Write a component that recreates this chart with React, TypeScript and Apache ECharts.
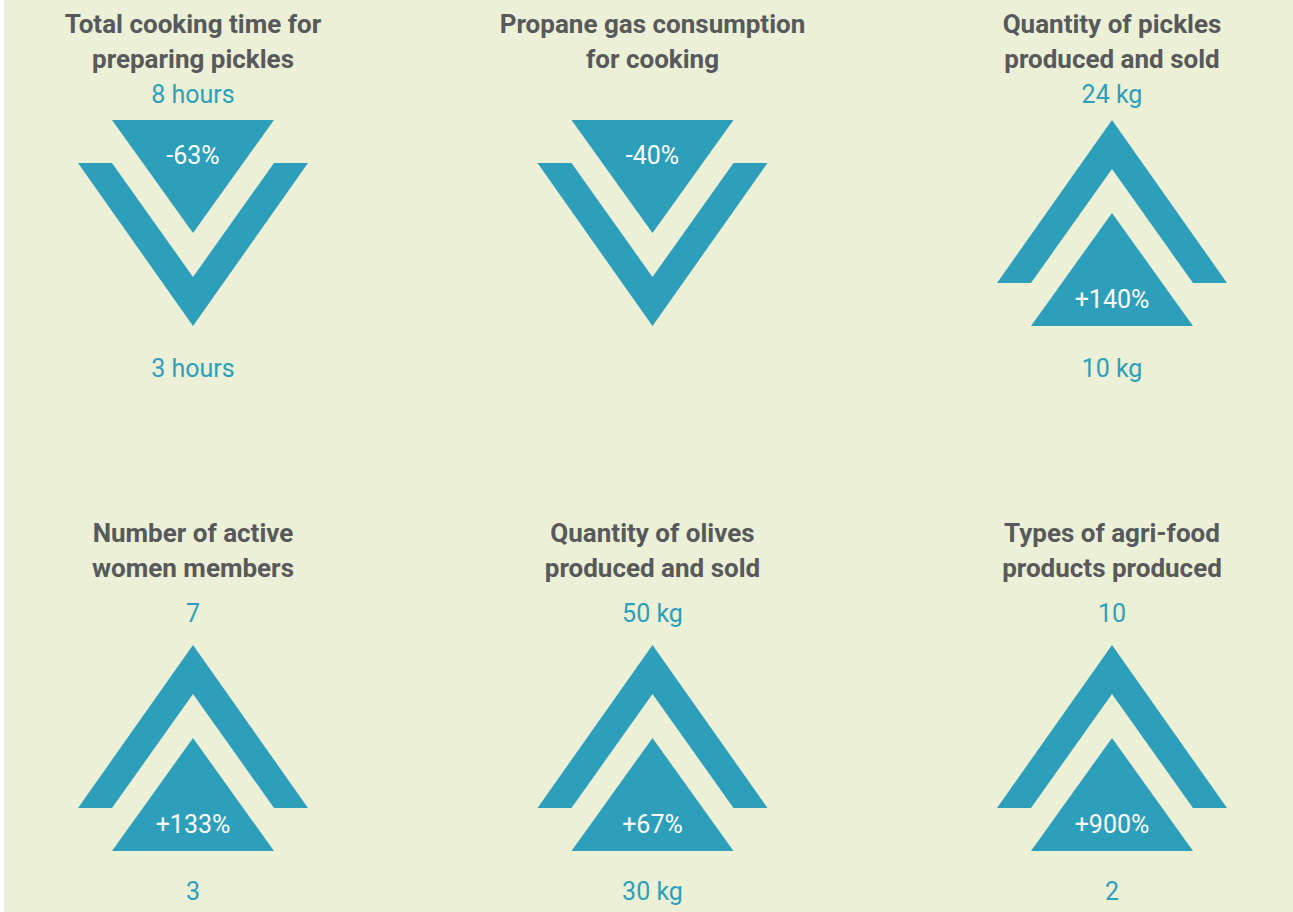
import React, { useEffect, useRef } from "react";
import * as echarts from "echarts";

// ---- data ----
const panelTitles: string[][] = [
  ["Total cooking time for", "preparing pickles"],
  ["Propane gas consumption", "for cooking"],
  ["Quantity of pickles", "produced and sold"],
  ["Number of active", "women members"],
  ["Quantity of olives", "produced and sold"],
  ["Types of agri-food", "products produced"],
];
const beforeValues: string[] = ["8 hours", "", "10 kg", "3", "30 kg", "2"];
const afterValues: string[] = ["3 hours", "", "24 kg", "7", "50 kg", "10"];
const changeLabels: string[] = ["-63%", "-40%", "+140%", "+133%", "+67%", "+900%"];
const panelColumns: number[] = [0, 1, 2, 0, 1, 2];
const panelRows: number[] = [0, 0, 0, 1, 1, 1];

// ---- layout / styles ----
const TEAL = "#2E9FBA";
const GREY = "#58595B";
const BG = "#EBF0D7";
const FONT = "Roboto, 'Noto Sans', sans-serif";
// per row offsets relative to the icon centre
const rowLayout = [
  { title1: -199, title2: -164, top: -129, bottom: 145 },
  { title1: -215.5, title2: -180.5, top: -134.5, bottom: 143.5 },
];

function renderPanel(params: any, api: any) {
  const i = params.dataIndex;
  const c = api.coord([api.value(0), api.value(1)]);
  const cx = c[0];
  const cy = c[1];
  const row = panelRows[i];
  const L = rowLayout[row];
  const down = changeLabels[i].startsWith("-");
  const s = down ? 1 : -1;
  const pt = (dx: number, dy: number) => [cx + dx, cy + dy * s];

  const tri = [pt(-81, -103), pt(81, -103), pt(0, 10)];
  const chev = [pt(-115, -60), pt(-81, -60), pt(0, 54), pt(81, -60), pt(115, -60), pt(0, 103)];

  const topLabel = down ? beforeValues[i] : afterValues[i];
  const bottomLabel = down ? afterValues[i] : beforeValues[i];

  const txt = (text: string, y: number, size: number, weight: string, fill: string) => ({
    type: "text",
    style: {
      text,
      x: cx,
      y,
      fill,
      font: `${weight} ${size}px ${FONT}`,
      align: "center",
      verticalAlign: "middle",
    },
  });

  const children: any[] = [
    { type: "polygon", shape: { points: chev }, style: { fill: TEAL } },
    { type: "polygon", shape: { points: tri }, style: { fill: TEAL } },
    txt(panelTitles[i][0], cy + L.title1, 26, "bold", GREY),
    txt(panelTitles[i][1], cy + L.title2, 26, "bold", GREY),
    txt(changeLabels[i], cy + (down ? -67.5 : 76), 25, "normal", "#FFFFFF"),
  ];
  if (topLabel) children.push(txt(topLabel, cy + L.top, 25, "normal", TEAL));
  if (bottomLabel) children.push(txt(bottomLabel, cy + L.bottom, 25, "normal", TEAL));

  return { type: "group", children };
}

export default function App() {
  const ref = useRef<HTMLDivElement>(null);
  useEffect(() => {
    if (!ref.current) return;
    const chart = echarts.init(ref.current, undefined, { renderer: "svg" });
    chart.setOption({
      animation: false,
      backgroundColor: BG,
      grid: { left: 189, right: 181, top: 223, bottom: 164, containLabel: false },
      xAxis: { type: "value", min: 0, max: 2, show: false },
      yAxis: { type: "value", min: 0, max: 1, inverse: true, show: false },
      series: [
        {
          type: "custom",
          clip: false,
          renderItem: renderPanel,
          data: panelColumns.map((col, i) => [col, panelRows[i], i]),
        },
      ],
    });
    return () => chart.dispose();
  }, []);
  return (
    <div style={{ position: "fixed", left: 0, top: 0, width: 1293, height: 912, background: "#fff" }}>
      <div ref={ref} style={{ position: "absolute", left: 4, top: 0, width: 1289, height: 912 }} />
    </div>
  );
}
